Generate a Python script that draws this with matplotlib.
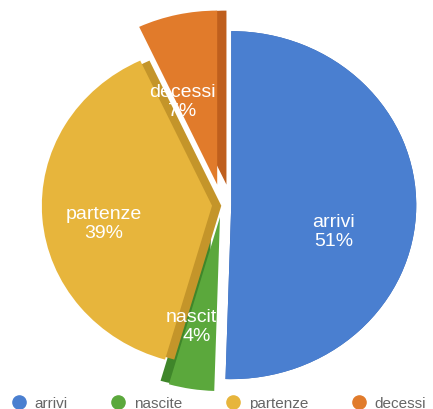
import numpy as np
import matplotlib.pyplot as plt
from matplotlib.lines import Line2D

plt.rcParams['font.family'] = ['Liberation Sans', 'DejaVu Sans']

# data
labels = ['arrivi', 'nascite', 'partenze', 'decessi']
values = [51, 4, 39, 7]
pct_labels = ['51%', '4%', '39%', '7%']

# styling
colors = ['#4a7fd0', '#5ba83c', '#e7b53c', '#e17b2b']
shades = ['#3b66ac', '#3f862a', '#c4952a', '#bf5f1d']
explode = [0.05, 0.07, 0.054, 0.12]
radii = [1.0, 1.0, 0.92, 1.0]
depth = [(0.0, 0.0), (-0.045, 0.02), (0.05, 0.0), (0.05, 0.0)]
label_pos = [(0.605, -0.15), (-0.135, -0.695), (-0.638, -0.103), (-0.216, 0.598)]

W, H = 433, 410
cx, cy = 222, 206      # pie centre in pixels (from top-left)
rx, ry = 185, 174      # pixel size of one radius unit

fig = plt.figure(figsize=(W / 100, H / 100), dpi=100)
ax = fig.add_axes([0, 0, 1, 1])

kw = dict(explode=explode, startangle=90, counterclock=False,
          wedgeprops=dict(linewidth=0))
# darker copy underneath gives the slices some depth
sides, _ = ax.pie(values, colors=shades, **kw)
wedges, _ = ax.pie(values, colors=colors, **kw)
for s, w, r, d in zip(sides, wedges, radii, depth):
    w.set_radius(r)
    s.set_radius(r)
    s.set_center((w.center[0] + d[0], w.center[1] + d[1]))

for (x, y), name, pct in zip(label_pos, labels, pct_labels):
    ax.text(x, y, f'{name}\n{pct}', color='white', fontsize=14,
            ha='center', va='center', linespacing=1.15)

ax.set_aspect('auto')
ax.set_xlim(-cx / rx, (W - cx) / rx)
ax.set_ylim(-(H - cy) / ry, cy / ry)
ax.axis('off')

handles = [Line2D([], [], marker='o', ls='', color=c, markersize=9.5)
           for c in colors]
fig.legend(handles, labels, loc='lower center', ncol=4, frameon=False,
           bbox_to_anchor=(0.505, -0.025), borderaxespad=0.2,
           handlelength=1.0, handletextpad=0.55, columnspacing=2.8,
           fontsize=11, labelcolor='#666666')

fig.savefig('out.png', dpi=100)
